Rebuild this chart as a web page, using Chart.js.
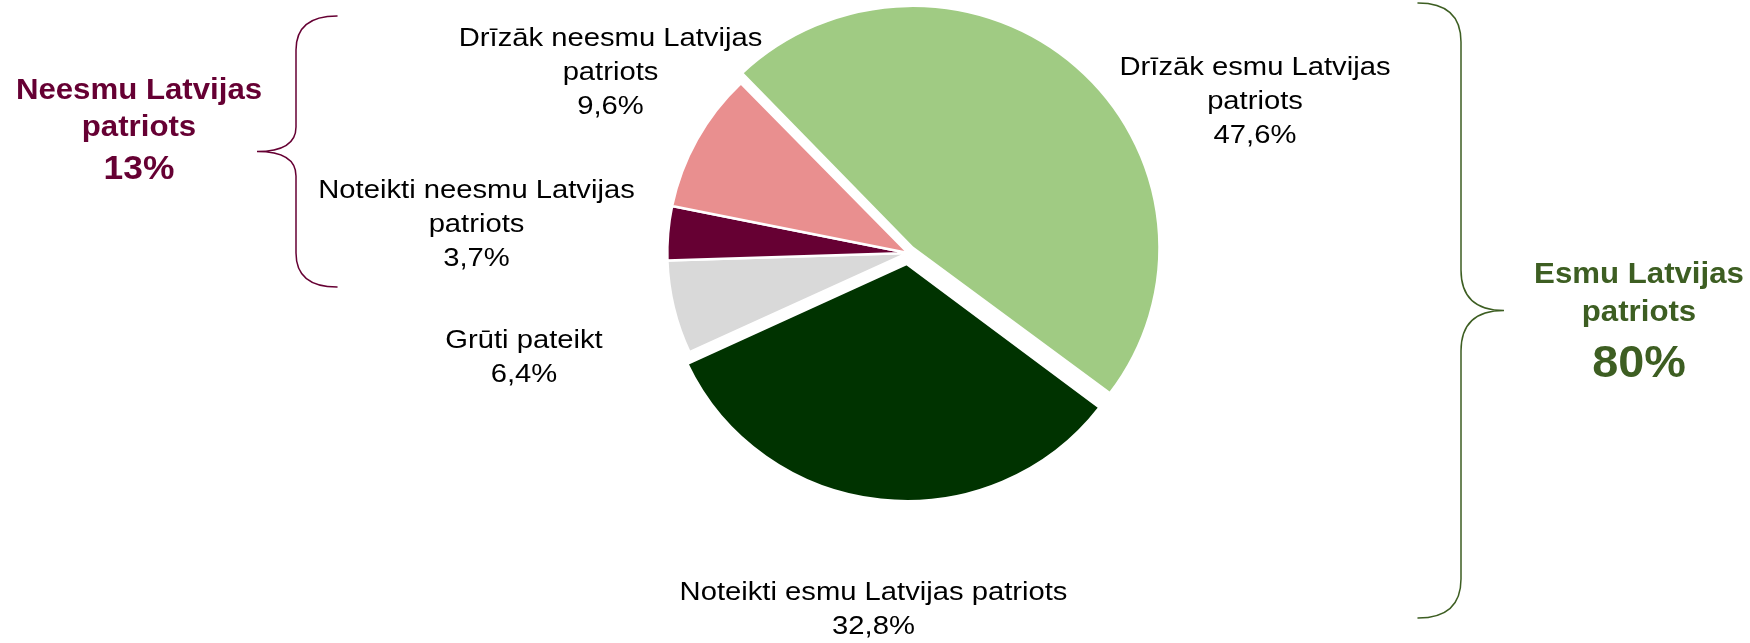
<!DOCTYPE html>
<html>
<head>
<meta charset="utf-8">
<script src="https://cdn.jsdelivr.net/npm/chart.js@4.4.1/dist/chart.umd.min.js"></script>
<style>
html,body{margin:0;padding:0;background:#ffffff;overflow:hidden}
canvas{display:block}
</style>
</head>
<body>
<canvas id="c" width="1750" height="643"></canvas>
<script>
// ---- data ----
const categories = [
  ["Drīzāk esmu Latvijas", "patriots"],
  ["Noteikti esmu Latvijas patriots"],
  ["Grūti pateikt"],
  ["Noteikti neesmu Latvijas", "patriots"],
  ["Drīzāk neesmu Latvijas", "patriots"]
];
const values = [47.6, 32.8, 6.4, 3.7, 9.6];
const groupTitles = [["Neesmu Latvijas", "patriots"], ["Esmu Latvijas", "patriots"]];
const groupValues = [13, 80];

// ---- helpers ----
const FONT = '"Liberation Sans", Arial, sans-serif';
function fmt(v) { return v.toFixed(1).replace('.', ',') + '%'; }
function drawText(ctx, text, x, y, font, color, scaleX) {
  ctx.save();
  ctx.font = font;
  ctx.fillStyle = color;
  ctx.textAlign = 'center';
  ctx.textBaseline = 'alphabetic';
  ctx.translate(x, y);
  ctx.scale(scaleX, 1);
  ctx.fillText(text, 0, 0);
  ctx.restore();
}

const SX = 1.02; // slight horizontal stretch of the pie

const bgPlugin = {
  id: 'bg',
  beforeDraw(chart) {
    const ctx = chart.ctx;
    ctx.save();
    ctx.fillStyle = '#ffffff';
    ctx.fillRect(0, 0, chart.width, chart.height);
    ctx.restore();
  }
};

const ellipsePlugin = {
  id: 'ellipse',
  beforeDatasetsDraw(chart) {
    const a = chart.getDatasetMeta(0).data[0];
    const ctx = chart.ctx;
    ctx.save();
    ctx.translate(a.x, a.y);
    ctx.scale(SX, 1);
    ctx.translate(-a.x, -a.y);
  },
  afterDatasetsDraw(chart) {
    chart.ctx.restore();
  }
};

const labelPlugin = {
  id: 'labels',
  afterDraw(chart) {
    const ctx = chart.ctx;
    // slice labels: center x, first baseline
    const anchors = [
      [1255, 75],
      [873.5, 600],
      [524, 347.5],
      [476.5, 197.5],
      [610.5, 45.5]
    ];
    const regFont = '26px ' + FONT;
    categories.forEach((lines, i) => {
      const all = lines.concat([fmt(values[i])]);
      all.forEach((t, k) => {
        drawText(ctx, t, anchors[i][0], anchors[i][1] + k * 34, regFont, '#000000', 1.123);
      });
    });

    // group labels
    const gColors = ['#660033', '#3D5E22'];
    const gX = [139, 1639];
    const gBase = [[99, 135.5, 179], [283.3, 320.7, 376.7]];
    const gBig = ['bold 34px ' + FONT, 'bold 45px ' + FONT];
    for (let g = 0; g < 2; g++) {
      groupTitles[g].forEach((t, k) => {
        drawText(ctx, t, gX[g], gBase[g][k], 'bold 30px ' + FONT, gColors[g], 1.04);
      });
      drawText(ctx, groupValues[g] + '%', gX[g], gBase[g][2], gBig[g], gColors[g], 1.04);
    }

    // braces
    ctx.save();
    ctx.lineWidth = 1.5;
    ctx.lineCap = 'round';
    // left brace
    ctx.strokeStyle = '#660033';
    ctx.beginPath();
    ctx.moveTo(337, 16);
    ctx.quadraticCurveTo(296, 16, 296, 50);
    ctx.lineTo(296, 127);
    ctx.quadraticCurveTo(296, 151.5, 257, 151.5);
    ctx.quadraticCurveTo(296, 151.5, 296, 176);
    ctx.lineTo(296, 253);
    ctx.quadraticCurveTo(296, 287, 337, 287);
    ctx.stroke();
    // right brace
    ctx.strokeStyle = '#3D5E22';
    ctx.beginPath();
    ctx.moveTo(1418, 3);
    ctx.quadraticCurveTo(1461, 3, 1461, 42);
    ctx.lineTo(1461, 270);
    ctx.quadraticCurveTo(1461, 310.5, 1504, 310.5);
    ctx.quadraticCurveTo(1461, 310.5, 1461, 351);
    ctx.lineTo(1461, 579);
    ctx.quadraticCurveTo(1461, 618, 1418, 618);
    ctx.stroke();
    ctx.restore();
  }
};

new Chart(document.getElementById('c'), {
  type: 'pie',
  data: {
    labels: categories.map(l => l.join(' ')),
    datasets: [{
      data: values,
      backgroundColor: ['#A0CB83', '#003300', '#D9D9D9', '#660033', '#E98F8F'],
      borderColor: '#ffffff',
      borderWidth: 2.5,
      offset: [28, 44, 0, 0, 0],
      hoverOffset: 0
    }]
  },
  options: {
    responsive: false,
    devicePixelRatio: 1,
    animation: false,
    events: [],
    rotation: -44,
    radius: 236,
    layout: { padding: { left: 66, right: 0, top: 0, bottom: 137 } },
    plugins: {
      legend: { display: false },
      tooltip: { enabled: false }
    }
  },
  plugins: [bgPlugin, ellipsePlugin, labelPlugin]
});
</script>
</body>
</html>
